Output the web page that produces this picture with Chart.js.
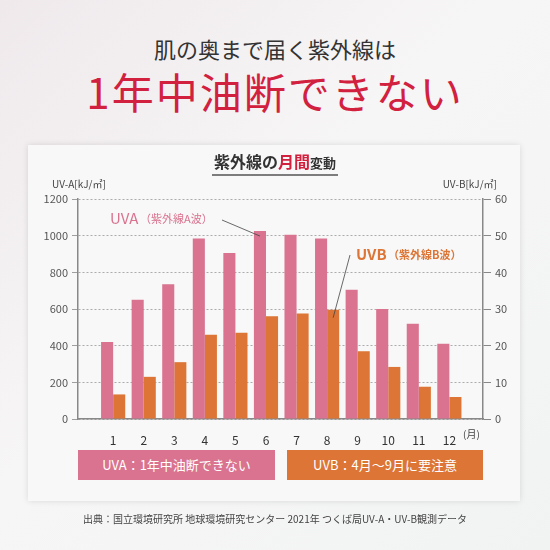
<!DOCTYPE html>
<html lang="ja">
<head>
<meta charset="UTF-8">
<title>紫外線の月間変動</title>
<script src="https://cdn.jsdelivr.net/npm/chart.js"></script>
<style>
  body { margin:0; width:550px; height:550px; overflow:hidden; font-family:"Noto Sans CJK JP","Noto Sans",sans-serif;
         background:linear-gradient(135deg,#efe9ec 0%,#f7f6f6 45%,#f1f3f3 100%); position:relative; }
  .h1 { position:absolute; top:32px; width:100%; text-align:center; font-size:22px; color:#333; }
  .h2 { position:absolute; top:60px; width:100%; text-align:center; font-size:42px; color:#d2203f; letter-spacing:2px; font-family:"Noto Sans CJK JP",serif; }
  .panel { position:absolute; left:28px; top:145px; width:492px; height:356px; background:#f8f8f8; box-shadow:0 0 6px rgba(0,0,0,0.12); }
  .box { position:absolute; top:450px; height:30px; line-height:30px; color:#fff; text-align:center; font-size:13px; }
  .src { position:absolute; top:511px; width:100%; text-align:center; font-size:10px; color:#444; }
  canvas { position:absolute; left:0; top:0; }
</style>
</head>
<body>
<div class="h1">肌の奥まで届く紫外線は</div>
<div class="h2">1年中油断できない</div>
<div class="panel"></div>
<canvas id="c" width="550" height="550"></canvas>
<div class="box" style="left:78px;width:197px;background:#d9738f">UVA：1年中油断できない</div>
<div class="box" style="left:287px;width:196px;background:#dc7535">UVB：4月～9月に要注意</div>
<div class="src">出典：国立環境研究所 地球環境研究センター 2021年 つくば局UV-A・UV-B観測データ</div>
<script>
const months = [1,2,3,4,5,6,7,8,9,10,11,12];
const uva = [420,650,735,985,905,1025,1005,985,705,600,520,410];
const uvb = [6.7,11.5,15.5,23,23.5,28,28.8,29.8,18.5,14.2,8.8,6];
const leftTicks = [0,200,400,600,800,1000,1200];

const font = "'Noto Sans CJK JP','Noto Sans',sans-serif";
const overlay = {
  id:'overlay',
  afterDraw(ch){
    const c = ch.ctx, a = ch.chartArea;
    c.save();
    c.textBaseline='middle';
    const t1='紫外線の', t2='月間', t3='変動';
    c.font="bold 16px "+font; const w1=c.measureText(t1).width, w2=c.measureText(t2).width;
    c.font="bold 13px "+font; const w3=c.measureText(t3).width;
    let sx=275-(w1+w2+w3)/2;
    c.font="bold 16px "+font; c.fillStyle='#333'; c.textAlign='left'; c.fillText(t1,sx,162);
    c.fillStyle='#d2203f'; c.fillText(t2,sx+w1,162);
    c.font="bold 13px "+font; c.fillStyle='#333'; c.fillText(t3,sx+w1+w2,163);
    c.strokeStyle='#555'; c.lineWidth=1.5; c.beginPath(); c.moveTo(sx-2,175); c.lineTo(sx+w1+w2+w3+2,175); c.stroke();
    c.font="10px "+font; c.fillStyle='#444';
    c.textAlign='left'; c.fillText('UV-A[kJ/㎡]',52,184);
    c.textAlign='right'; c.fillText('UV-B[kJ/㎡]',497,184);
    c.textAlign='left'; c.fillText('(月)',a.right-20,434);
    c.font="15px "+font; c.fillStyle='#d9738f'; c.fillText('UVA',110,218);
    c.font="11px "+font; c.fillText('（紫外線A波）',140,219);
    c.font="bold 15px "+font; c.fillStyle='#dc7535'; c.fillText('UVB',356,254);
    c.font="bold 11px "+font; c.fillText('（紫外線B波）',388,255);
    const m6 = ch.getDatasetMeta(0).data[5], m8 = ch.getDatasetMeta(1).data[7];
    c.strokeStyle='#444'; c.lineWidth=0.8;
    c.beginPath(); c.moveTo(222,220); c.lineTo(m6.x,m6.y+5); c.stroke();
    c.beginPath(); c.moveTo(350,255); c.lineTo(m8.x,m8.y+8); c.stroke();
    c.restore();
  }
};

new Chart(document.getElementById('c'), {
  type:'bar',
  data:{ datasets:[
    { data: months.map((m,i)=>({x:m,y:uva[i]})), backgroundColor:'#d9738f', yAxisID:'y' },
    { data: months.map((m,i)=>({x:m,y:uvb[i]})), backgroundColor:'#dc7535', yAxisID:'y1' }
  ]},
  options:{
    responsive:false, animation:false,
    layout:{ padding:{ left:28, right:30, top:199, bottom:101 } },
    categoryPercentage:0.79, barPercentage:1,
    plugins:{ legend:{display:false}, tooltip:{enabled:false} },
    scales:{
      x:{ type:'linear', min:-0.15, max:13.1, offset:false, afterFit:s=>{s.height=30;},
          afterBuildTicks:s=>{ s.ticks = months.map(v=>({value:v})); },
          grid:{ display:false }, border:{ color:'#888', width:1.5 },
          ticks:{ color:'#333', font:{size:12, family:font}, padding:6 } },
      y:{ min:0, max:1200, position:'left', afterFit:s=>{s.width=50;},
          afterBuildTicks:s=>{ s.ticks = leftTicks.map(v=>({value:v})); },
          border:{ color:'#888', width:1.5, dash:[2,2] },
          grid:{ color:'#999', lineWidth:0.8, tickLength:6, tickColor:'#888' },
          ticks:{ color:'#555', font:{size:11, family:font}, padding:4, callback:v=>String(v) } },
      y1:{ min:0, max:60, position:'right', afterFit:s=>{s.width=37;},
          ticks:{ stepSize:10, color:'#555', font:{size:11, family:font}, padding:4 },
          border:{ color:'#888', width:1.5 },
          grid:{ drawOnChartArea:false, tickLength:8, tickColor:'#888' } }
    }
  },
  plugins:[overlay]
});
</script>
</body>
</html>
